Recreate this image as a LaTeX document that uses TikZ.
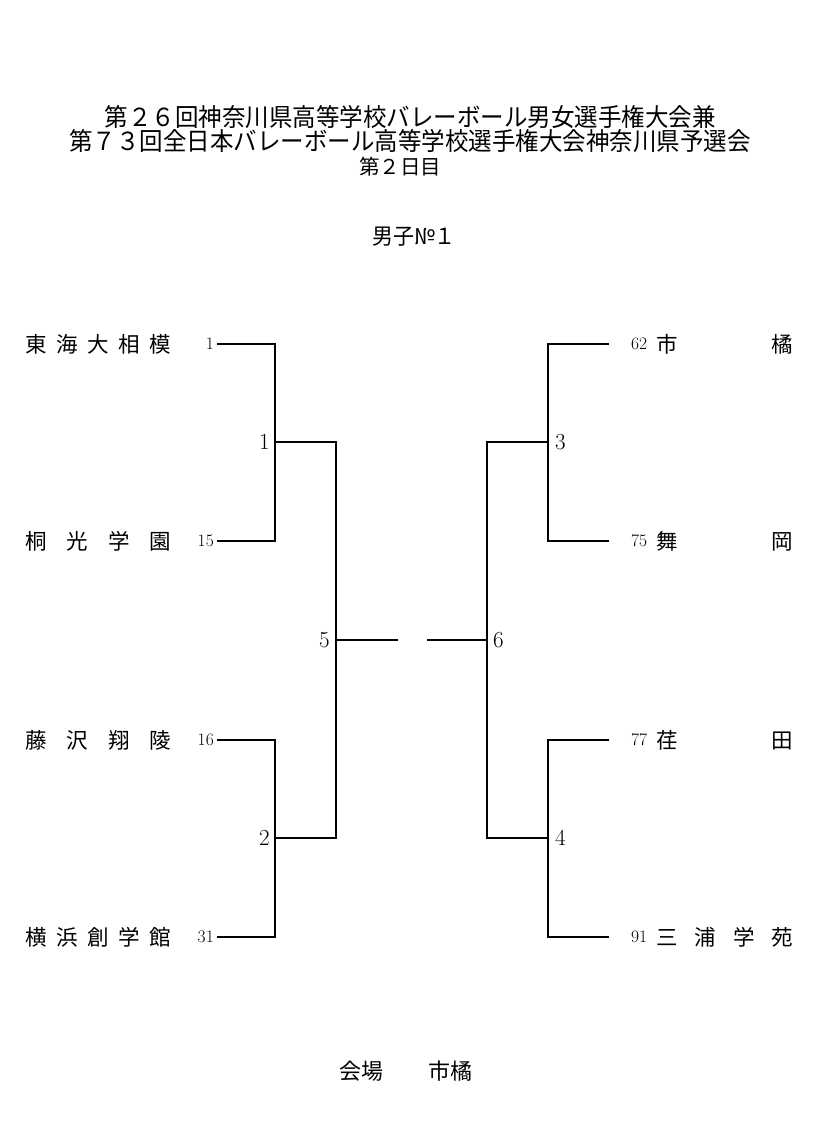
\documentclass[tikz,border=0pt]{standalone}
\usepackage{fontspec}
\newfontfamily\jp{Noto Sans CJK JP}
\newcommand\tall[1]{\scalebox{1}[1.06]{#1}}
\begin{document}
\begin{tikzpicture}[x=1pt,y=-1pt,
  line/.style={line width=1.4pt,black},
  title/.style={font=\jp\fontsize{23.5}{26}\selectfont,inner sep=0pt},
  team/.style={font=\jp\fontsize{21.5}{24}\selectfont,inner sep=0pt},
  seed/.style={font=\fontsize{17.5}{19}\selectfont,inner sep=0pt},
  round/.style={font=\fontsize{23}{26}\selectfont,inner sep=0pt}]
\useasboundingbox (0,0) rectangle (827,1138);
% titles
\node[title] (t1) at (410,117) {\tall{第２６回神奈川県高等学校バレーボール男女選手権大会兼}};
\node[title] (t2) at (410,141) {\tall{第７３回全日本バレーボール高等学校選手権大会神奈川県予選会}};
\node[title,font=\jp\fontsize{20.5}{22}\selectfont] (t3) at (400,167) {第２日目};
\node[title,font=\jp\fontsize{21}{24}\selectfont] (t4) at (414,237) {\tall{男子№１}};
% left teams
\node[team,anchor=west] (n1) at (25,344) {\makebox[146pt][s]{東\hfill 海\hfill 大\hfill 相\hfill 模}};
\node[team,anchor=west] (n15) at (25,541) {\makebox[146pt][s]{桐\hfill 光\hfill 学\hfill 園}};
\node[team,anchor=west] (n16) at (25,740) {\makebox[146pt][s]{藤\hfill 沢\hfill 翔\hfill 陵}};
\node[team,anchor=west] (n31) at (25,937) {\makebox[146pt][s]{横\hfill 浜\hfill 創\hfill 学\hfill 館}};
\node[seed,anchor=east] (s1) at (214,344) {1};
\node[seed,anchor=east] (s15) at (214,541) {15};
\node[seed,anchor=east] (s16) at (214,740) {16};
\node[seed,anchor=east] (s31) at (214,937) {31};
% right teams
\node[seed,anchor=west] (s62) at (631,344) {62};
\node[seed,anchor=west] (s75) at (631,541) {75};
\node[seed,anchor=west] (s77) at (631,740) {77};
\node[seed,anchor=west] (s91) at (631,937) {91};
\node[team,anchor=west] (n62) at (656,344) {\makebox[137pt][s]{市\hfill 橘}};
\node[team,anchor=west] (n75) at (656,541) {\makebox[137pt][s]{舞\hfill 岡}};
\node[team,anchor=west] (n77) at (656,740) {\makebox[137pt][s]{荏\hfill 田}};
\node[team,anchor=west] (n91) at (656,937) {\makebox[137pt][s]{三\hfill 浦\hfill 学\hfill 苑}};
% line ends
\coordinate (a1) at (217,344);
\coordinate (a15) at (217,541);
\coordinate (a16) at (217,740);
\coordinate (a31) at (217,937);
\coordinate (a62) at (609,344);
\coordinate (a75) at (609,541);
\coordinate (a77) at (609,740);
\coordinate (a91) at (609,937);
\coordinate (j1) at (275,442);
\coordinate (j2) at (275,838);
\coordinate (j3) at (548,442);
\coordinate (j4) at (548,838);
\coordinate (j5) at (336,640);
\coordinate (j6) at (487,640);
\coordinate (e5) at (398,640);
\coordinate (e6) at (427,640);
% round labels
\node[round,anchor=east] (r1) at (270,442) {1};
\node[round,anchor=east] (r2) at (270,838) {2};
\node[round,anchor=west] (r3) at (555,442) {3};
\node[round,anchor=west] (r4) at (555,838) {4};
\node[round,anchor=east] (r5) at (330,640) {5};
\node[round,anchor=west] (r6) at (493,640) {6};
% brackets
\draw[line] (a1) -| (j1) |- (a15);
\draw[line] (a16) -| (j2) |- (a31);
\draw[line] (a62) -| (j3) |- (a75);
\draw[line] (a77) -| (j4) |- (a91);
\draw[line] (j1) -| (j5) |- (j2);
\draw[line] (j3) -| (j6) |- (j4);
\draw[line] (j5) -- (e5);
\draw[line] (j6) -- (e6);
% venue
\node[title,font=\jp\fontsize{22}{24}\selectfont] (v) at (406,1071) {会場\hspace{45pt}市橘};
\end{tikzpicture}
\end{document}
